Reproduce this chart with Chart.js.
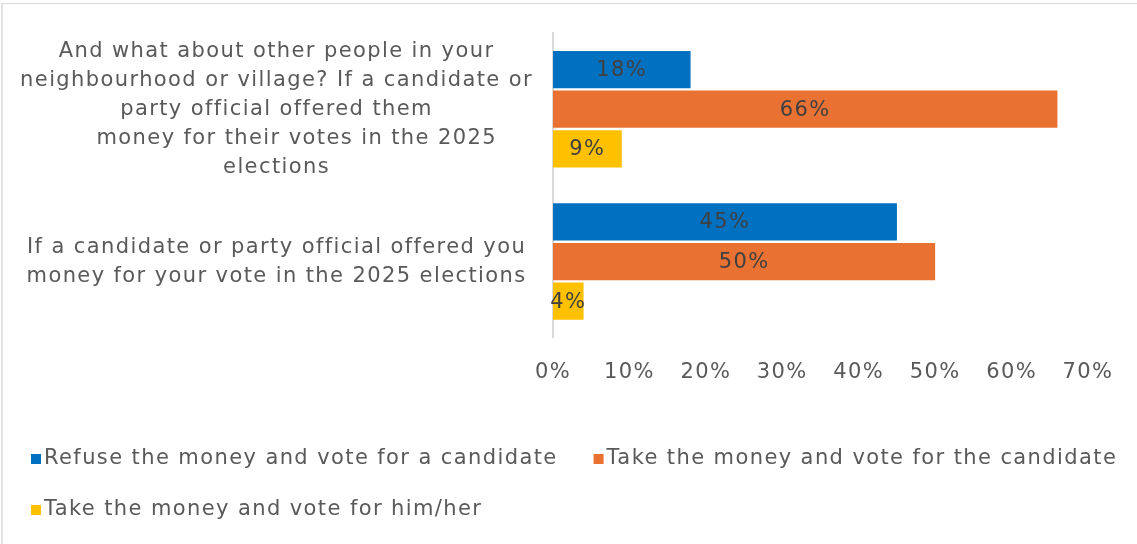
<!DOCTYPE html>
<html>
<head>
<meta charset="utf-8">
<script src="https://cdn.jsdelivr.net/npm/chart.js@4"></script>
<style>
  html, body { margin: 0; padding: 0; background: #fff; }
  body { width: 1137px; height: 544px; position: relative; overflow: hidden; }
  .frame {
    position: absolute; left: 1px; top: 3px; width: 1150px; height: 560px;
    border-top: 1px solid #d9d9d9; border-left: 2px solid #e2e2e2;
  }
  .wrap { position: absolute; left: 0; top: 0; width: 1137px; height: 544px; }
</style>
</head>
<body>
<div class="frame"></div>
<div class="wrap"><canvas id="chart-money"></canvas></div>
<script>
const categoryLabels = [
  [
    "And what about other people in your",
    "neighbourhood or village? If a candidate or",
    "party official offered them",
    "     money for their votes in the 2025",
    "elections"
  ],
  [
    "If a candidate or party official offered you",
    "money for your vote in the 2025 elections"
  ]
];

const seriesNames = [
  "Refuse the money and vote for a candidate",
  "Take the money and vote for the candidate",
  "Take the money and vote for him/her"
];

const refuseAndVote = [18, 45];
const takeAndVoteCandidate = [66, 50];
const takeAndVoteHimHer = [9, 4];

const axisMax = 70;
const axisStep = 10;

const COLORS = ["#0070C0", "#E97132", "#FFC000"];
const FONT = "'DejaVu Sans', sans-serif";
const FONT_SIZE = 21;
const TEXT_GREY = "#595959";

// the text face is narrower than the original, so space the letters out a bit
const wideText = {
  id: "wideText",
  beforeDraw(chart) { chart.ctx.letterSpacing = "1.4px"; },
  beforeLayout(chart) { chart.ctx.letterSpacing = "1.4px"; }
};

// value labels in the middle of each bar
const barValueLabels = {
  id: "barValueLabels",
  afterDatasetsDraw(chart) {
    const ctx = chart.ctx;
    ctx.save();
    ctx.font = `${FONT_SIZE}px ${FONT}`;
    ctx.fillStyle = "#404040";
    ctx.textAlign = "center";
    ctx.textBaseline = "middle";
    chart.data.datasets.forEach((ds, i) => {
      chart.getDatasetMeta(i).data.forEach((bar, j) => {
        ctx.fillText(ds.data[j] + "%", (bar.x + bar.base) / 2, bar.y + 1);
      });
    });
    ctx.restore();
  }
};

// left aligned legend under the plot, wrapping onto a second row
const bottomLegend = {
  id: "bottomLegend",
  afterDraw(chart) {
    const ctx = chart.ctx;
    const startX = 31;
    const rowY = [459, 510];
    const gap = 36;
    const box = 10;
    ctx.save();
    ctx.font = `${FONT_SIZE}px ${FONT}`;
    ctx.textBaseline = "middle";
    ctx.textAlign = "left";
    let x = startX;
    let row = 0;
    chart.data.datasets.forEach(ds => {
      const w = box + 3 + ctx.measureText(ds.label).width;
      if (x > startX && x + w > chart.width - 8) {
        row++;
        x = startX;
      }
      const y = rowY[row];
      ctx.fillStyle = ds.backgroundColor;
      ctx.fillRect(x, y - box / 2, box, box);
      ctx.fillStyle = TEXT_GREY;
      ctx.fillText(ds.label, x + box + 3, y);
      x += w + gap;
    });
    ctx.restore();
  }
};

new Chart(document.getElementById("chart-money").getContext("2d"), {
  type: "bar",
  data: {
    labels: categoryLabels,
    datasets: [
      { label: seriesNames[0], data: refuseAndVote, backgroundColor: COLORS[0] },
      { label: seriesNames[1], data: takeAndVoteCandidate, backgroundColor: COLORS[1] },
      { label: seriesNames[2], data: takeAndVoteHimHer, backgroundColor: COLORS[2] }
    ]
  },
  options: {
    indexAxis: "y",
    responsive: true,
    maintainAspectRatio: false,
    animation: false,
    categoryPercentage: 0.78,
    barPercentage: 0.94,
    layout: { padding: { top: 33, right: 49, bottom: 137, left: 0 } },
    plugins: {
      legend: { display: false },
      tooltip: { enabled: false }
    },
    scales: {
      x: {
        min: 0,
        max: axisMax,
        grid: { display: false, drawTicks: false },
        border: { display: false },
        ticks: {
          stepSize: axisStep,
          padding: 22,
          color: TEXT_GREY,
          font: { family: FONT, size: FONT_SIZE },
          callback: value => value + "%"
        },
        afterFit(scale) {
          scale.paddingLeft = 0;
          scale.paddingRight = 0;
        }
      },
      y: {
        grid: { display: false, drawTicks: false },
        border: { display: true, color: "#d9d9d9", width: 2 },
        afterFit(scale) {
          scale.width = 553;
          scale.paddingTop = 0;
          scale.paddingBottom = 0;
        },
        ticks: {
          autoSkip: false,
          crossAlign: "center",
          padding: 20,
          color: TEXT_GREY,
          font: { family: FONT, size: FONT_SIZE, lineHeight: 1.38 }
        }
      }
    }
  },
  plugins: [wideText, barValueLabels, bottomLegend]
});
</script>
</body>
</html>
